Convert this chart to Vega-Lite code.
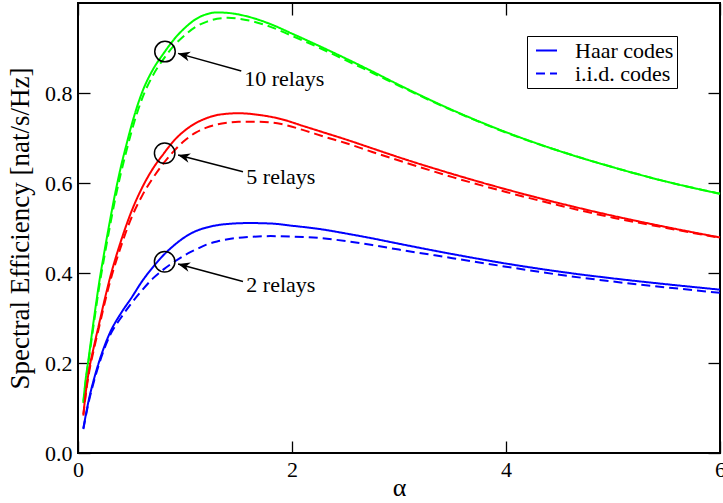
{
  "$schema": "https://vega.github.io/schema/vega-lite/v6.json",
  "width": 642,
  "height": 450,
  "autosize": {"type": "none"},
  "padding": {"left": 78, "top": 3, "right": 3, "bottom": 47},
  "background": "white",
  "datasets": {
    "curves": [
      {"a":0.05,"v":0.114,"n":"10 relays","c":"Haar codes"},{"a":0.07,"v":0.16,"n":"10 relays","c":"Haar codes"},{"a":0.1,"v":0.212,"n":"10 relays","c":"Haar codes"},{"a":0.15,"v":0.3,"n":"10 relays","c":"Haar codes"},{"a":0.2,"v":0.382,"n":"10 relays","c":"Haar codes"},{"a":0.25,"v":0.452,"n":"10 relays","c":"Haar codes"},{"a":0.3,"v":0.518,"n":"10 relays","c":"Haar codes"},{"a":0.35,"v":0.58,"n":"10 relays","c":"Haar codes"},{"a":0.4,"v":0.635,"n":"10 relays","c":"Haar codes"},{"a":0.45,"v":0.683,"n":"10 relays","c":"Haar codes"},{"a":0.5,"v":0.728,"n":"10 relays","c":"Haar codes"},{"a":0.55,"v":0.768,"n":"10 relays","c":"Haar codes"},{"a":0.6,"v":0.802,"n":"10 relays","c":"Haar codes"},{"a":0.7,"v":0.852,"n":"10 relays","c":"Haar codes"},{"a":0.8,"v":0.888,"n":"10 relays","c":"Haar codes"},{"a":0.9,"v":0.92,"n":"10 relays","c":"Haar codes"},{"a":1.0,"v":0.945,"n":"10 relays","c":"Haar codes"},{"a":1.1,"v":0.964,"n":"10 relays","c":"Haar codes"},{"a":1.2,"v":0.975,"n":"10 relays","c":"Haar codes"},{"a":1.3,"v":0.979,"n":"10 relays","c":"Haar codes"},{"a":1.4,"v":0.978,"n":"10 relays","c":"Haar codes"},{"a":1.6,"v":0.969,"n":"10 relays","c":"Haar codes"},{"a":1.8,"v":0.953,"n":"10 relays","c":"Haar codes"},{"a":2.0,"v":0.932,"n":"10 relays","c":"Haar codes"},{"a":2.25,"v":0.905,"n":"10 relays","c":"Haar codes"},{"a":2.5,"v":0.877,"n":"10 relays","c":"Haar codes"},{"a":2.75,"v":0.848,"n":"10 relays","c":"Haar codes"},{"a":3.0,"v":0.818,"n":"10 relays","c":"Haar codes"},{"a":3.5,"v":0.762,"n":"10 relays","c":"Haar codes"},{"a":4.0,"v":0.713,"n":"10 relays","c":"Haar codes"},{"a":4.5,"v":0.671,"n":"10 relays","c":"Haar codes"},{"a":5.0,"v":0.635,"n":"10 relays","c":"Haar codes"},{"a":5.5,"v":0.603,"n":"10 relays","c":"Haar codes"},{"a":6.0,"v":0.576,"n":"10 relays","c":"Haar codes"},

      {"a":0.05,"v":0.111,"n":"10 relays","c":"i.i.d. codes"},{"a":0.07,"v":0.155,"n":"10 relays","c":"i.i.d. codes"},{"a":0.1,"v":0.206,"n":"10 relays","c":"i.i.d. codes"},{"a":0.15,"v":0.291,"n":"10 relays","c":"i.i.d. codes"},{"a":0.2,"v":0.372,"n":"10 relays","c":"i.i.d. codes"},{"a":0.25,"v":0.441,"n":"10 relays","c":"i.i.d. codes"},{"a":0.3,"v":0.506,"n":"10 relays","c":"i.i.d. codes"},{"a":0.35,"v":0.567,"n":"10 relays","c":"i.i.d. codes"},{"a":0.4,"v":0.621,"n":"10 relays","c":"i.i.d. codes"},{"a":0.45,"v":0.669,"n":"10 relays","c":"i.i.d. codes"},{"a":0.5,"v":0.714,"n":"10 relays","c":"i.i.d. codes"},{"a":0.55,"v":0.754,"n":"10 relays","c":"i.i.d. codes"},{"a":0.6,"v":0.788,"n":"10 relays","c":"i.i.d. codes"},{"a":0.7,"v":0.839,"n":"10 relays","c":"i.i.d. codes"},{"a":0.8,"v":0.876,"n":"10 relays","c":"i.i.d. codes"},{"a":0.9,"v":0.906,"n":"10 relays","c":"i.i.d. codes"},{"a":1.0,"v":0.929,"n":"10 relays","c":"i.i.d. codes"},{"a":1.1,"v":0.947,"n":"10 relays","c":"i.i.d. codes"},{"a":1.2,"v":0.958,"n":"10 relays","c":"i.i.d. codes"},{"a":1.3,"v":0.965,"n":"10 relays","c":"i.i.d. codes"},{"a":1.4,"v":0.967,"n":"10 relays","c":"i.i.d. codes"},{"a":1.6,"v":0.961,"n":"10 relays","c":"i.i.d. codes"},{"a":1.8,"v":0.947,"n":"10 relays","c":"i.i.d. codes"},{"a":2.0,"v":0.927,"n":"10 relays","c":"i.i.d. codes"},{"a":2.25,"v":0.901,"n":"10 relays","c":"i.i.d. codes"},{"a":2.5,"v":0.873,"n":"10 relays","c":"i.i.d. codes"},{"a":2.75,"v":0.845,"n":"10 relays","c":"i.i.d. codes"},{"a":3.0,"v":0.816,"n":"10 relays","c":"i.i.d. codes"},{"a":3.5,"v":0.761,"n":"10 relays","c":"i.i.d. codes"},{"a":4.0,"v":0.712,"n":"10 relays","c":"i.i.d. codes"},{"a":4.5,"v":0.671,"n":"10 relays","c":"i.i.d. codes"},{"a":5.0,"v":0.635,"n":"10 relays","c":"i.i.d. codes"},{"a":5.5,"v":0.603,"n":"10 relays","c":"i.i.d. codes"},{"a":6.0,"v":0.576,"n":"10 relays","c":"i.i.d. codes"},

      {"a":0.05,"v":0.086,"n":"5 relays","c":"Haar codes"},{"a":0.08,"v":0.148,"n":"5 relays","c":"Haar codes"},{"a":0.1,"v":0.18,"n":"5 relays","c":"Haar codes"},{"a":0.15,"v":0.238,"n":"5 relays","c":"Haar codes"},{"a":0.2,"v":0.29,"n":"5 relays","c":"Haar codes"},{"a":0.25,"v":0.342,"n":"5 relays","c":"Haar codes"},{"a":0.3,"v":0.39,"n":"5 relays","c":"Haar codes"},{"a":0.4,"v":0.47,"n":"5 relays","c":"Haar codes"},{"a":0.5,"v":0.537,"n":"5 relays","c":"Haar codes"},{"a":0.6,"v":0.59,"n":"5 relays","c":"Haar codes"},{"a":0.7,"v":0.632,"n":"5 relays","c":"Haar codes"},{"a":0.8,"v":0.665,"n":"5 relays","c":"Haar codes"},{"a":0.9,"v":0.695,"n":"5 relays","c":"Haar codes"},{"a":1.0,"v":0.717,"n":"5 relays","c":"Haar codes"},{"a":1.1,"v":0.733,"n":"5 relays","c":"Haar codes"},{"a":1.2,"v":0.744,"n":"5 relays","c":"Haar codes"},{"a":1.3,"v":0.751,"n":"5 relays","c":"Haar codes"},{"a":1.4,"v":0.754,"n":"5 relays","c":"Haar codes"},{"a":1.5,"v":0.755,"n":"5 relays","c":"Haar codes"},{"a":1.7,"v":0.751,"n":"5 relays","c":"Haar codes"},{"a":1.9,"v":0.742,"n":"5 relays","c":"Haar codes"},{"a":2.1,"v":0.727,"n":"5 relays","c":"Haar codes"},{"a":2.3,"v":0.712,"n":"5 relays","c":"Haar codes"},{"a":2.5,"v":0.697,"n":"5 relays","c":"Haar codes"},{"a":2.75,"v":0.677,"n":"5 relays","c":"Haar codes"},{"a":3.0,"v":0.657,"n":"5 relays","c":"Haar codes"},{"a":3.5,"v":0.62,"n":"5 relays","c":"Haar codes"},{"a":4.0,"v":0.586,"n":"5 relays","c":"Haar codes"},{"a":4.5,"v":0.555,"n":"5 relays","c":"Haar codes"},{"a":5.0,"v":0.527,"n":"5 relays","c":"Haar codes"},{"a":5.5,"v":0.502,"n":"5 relays","c":"Haar codes"},{"a":6.0,"v":0.479,"n":"5 relays","c":"Haar codes"},

      {"a":0.05,"v":0.083,"n":"5 relays","c":"i.i.d. codes"},{"a":0.08,"v":0.143,"n":"5 relays","c":"i.i.d. codes"},{"a":0.1,"v":0.174,"n":"5 relays","c":"i.i.d. codes"},{"a":0.15,"v":0.232,"n":"5 relays","c":"i.i.d. codes"},{"a":0.2,"v":0.283,"n":"5 relays","c":"i.i.d. codes"},{"a":0.25,"v":0.334,"n":"5 relays","c":"i.i.d. codes"},{"a":0.3,"v":0.381,"n":"5 relays","c":"i.i.d. codes"},{"a":0.4,"v":0.458,"n":"5 relays","c":"i.i.d. codes"},{"a":0.5,"v":0.523,"n":"5 relays","c":"i.i.d. codes"},{"a":0.6,"v":0.572,"n":"5 relays","c":"i.i.d. codes"},{"a":0.7,"v":0.611,"n":"5 relays","c":"i.i.d. codes"},{"a":0.8,"v":0.644,"n":"5 relays","c":"i.i.d. codes"},{"a":0.9,"v":0.672,"n":"5 relays","c":"i.i.d. codes"},{"a":1.0,"v":0.695,"n":"5 relays","c":"i.i.d. codes"},{"a":1.1,"v":0.712,"n":"5 relays","c":"i.i.d. codes"},{"a":1.2,"v":0.723,"n":"5 relays","c":"i.i.d. codes"},{"a":1.3,"v":0.73,"n":"5 relays","c":"i.i.d. codes"},{"a":1.4,"v":0.734,"n":"5 relays","c":"i.i.d. codes"},{"a":1.5,"v":0.736,"n":"5 relays","c":"i.i.d. codes"},{"a":1.7,"v":0.736,"n":"5 relays","c":"i.i.d. codes"},{"a":1.9,"v":0.731,"n":"5 relays","c":"i.i.d. codes"},{"a":2.1,"v":0.718,"n":"5 relays","c":"i.i.d. codes"},{"a":2.3,"v":0.703,"n":"5 relays","c":"i.i.d. codes"},{"a":2.5,"v":0.689,"n":"5 relays","c":"i.i.d. codes"},{"a":2.75,"v":0.669,"n":"5 relays","c":"i.i.d. codes"},{"a":3.0,"v":0.65,"n":"5 relays","c":"i.i.d. codes"},{"a":3.5,"v":0.613,"n":"5 relays","c":"i.i.d. codes"},{"a":4.0,"v":0.58,"n":"5 relays","c":"i.i.d. codes"},{"a":4.5,"v":0.55,"n":"5 relays","c":"i.i.d. codes"},{"a":5.0,"v":0.523,"n":"5 relays","c":"i.i.d. codes"},{"a":5.5,"v":0.5,"n":"5 relays","c":"i.i.d. codes"},{"a":6.0,"v":0.478,"n":"5 relays","c":"i.i.d. codes"},

      {"a":0.05,"v":0.055,"n":"2 relays","c":"Haar codes"},{"a":0.1,"v":0.117,"n":"2 relays","c":"Haar codes"},{"a":0.15,"v":0.165,"n":"2 relays","c":"Haar codes"},{"a":0.2,"v":0.205,"n":"2 relays","c":"Haar codes"},{"a":0.3,"v":0.268,"n":"2 relays","c":"Haar codes"},{"a":0.4,"v":0.31,"n":"2 relays","c":"Haar codes"},{"a":0.5,"v":0.345,"n":"2 relays","c":"Haar codes"},{"a":0.6,"v":0.382,"n":"2 relays","c":"Haar codes"},{"a":0.7,"v":0.413,"n":"2 relays","c":"Haar codes"},{"a":0.8,"v":0.44,"n":"2 relays","c":"Haar codes"},{"a":0.9,"v":0.462,"n":"2 relays","c":"Haar codes"},{"a":1.0,"v":0.48,"n":"2 relays","c":"Haar codes"},{"a":1.1,"v":0.493,"n":"2 relays","c":"Haar codes"},{"a":1.2,"v":0.501,"n":"2 relays","c":"Haar codes"},{"a":1.4,"v":0.509,"n":"2 relays","c":"Haar codes"},{"a":1.6,"v":0.511,"n":"2 relays","c":"Haar codes"},{"a":1.8,"v":0.51,"n":"2 relays","c":"Haar codes"},{"a":2.0,"v":0.505,"n":"2 relays","c":"Haar codes"},{"a":2.25,"v":0.498,"n":"2 relays","c":"Haar codes"},{"a":2.5,"v":0.488,"n":"2 relays","c":"Haar codes"},{"a":2.75,"v":0.477,"n":"2 relays","c":"Haar codes"},{"a":3.0,"v":0.465,"n":"2 relays","c":"Haar codes"},{"a":3.5,"v":0.442,"n":"2 relays","c":"Haar codes"},{"a":4.0,"v":0.421,"n":"2 relays","c":"Haar codes"},{"a":4.5,"v":0.403,"n":"2 relays","c":"Haar codes"},{"a":5.0,"v":0.388,"n":"2 relays","c":"Haar codes"},{"a":5.5,"v":0.375,"n":"2 relays","c":"Haar codes"},{"a":6.0,"v":0.363,"n":"2 relays","c":"Haar codes"},

      {"a":0.05,"v":0.053,"n":"2 relays","c":"i.i.d. codes"},{"a":0.1,"v":0.113,"n":"2 relays","c":"i.i.d. codes"},{"a":0.15,"v":0.16,"n":"2 relays","c":"i.i.d. codes"},{"a":0.2,"v":0.2,"n":"2 relays","c":"i.i.d. codes"},{"a":0.3,"v":0.262,"n":"2 relays","c":"i.i.d. codes"},{"a":0.4,"v":0.3,"n":"2 relays","c":"i.i.d. codes"},{"a":0.5,"v":0.333,"n":"2 relays","c":"i.i.d. codes"},{"a":0.6,"v":0.362,"n":"2 relays","c":"i.i.d. codes"},{"a":0.7,"v":0.388,"n":"2 relays","c":"i.i.d. codes"},{"a":0.8,"v":0.408,"n":"2 relays","c":"i.i.d. codes"},{"a":0.9,"v":0.425,"n":"2 relays","c":"i.i.d. codes"},{"a":1.0,"v":0.44,"n":"2 relays","c":"i.i.d. codes"},{"a":1.1,"v":0.452,"n":"2 relays","c":"i.i.d. codes"},{"a":1.2,"v":0.463,"n":"2 relays","c":"i.i.d. codes"},{"a":1.3,"v":0.47,"n":"2 relays","c":"i.i.d. codes"},{"a":1.4,"v":0.475,"n":"2 relays","c":"i.i.d. codes"},{"a":1.6,"v":0.48,"n":"2 relays","c":"i.i.d. codes"},{"a":1.8,"v":0.482,"n":"2 relays","c":"i.i.d. codes"},{"a":2.0,"v":0.481,"n":"2 relays","c":"i.i.d. codes"},{"a":2.25,"v":0.478,"n":"2 relays","c":"i.i.d. codes"},{"a":2.5,"v":0.471,"n":"2 relays","c":"i.i.d. codes"},{"a":2.75,"v":0.462,"n":"2 relays","c":"i.i.d. codes"},{"a":3.0,"v":0.452,"n":"2 relays","c":"i.i.d. codes"},{"a":3.5,"v":0.433,"n":"2 relays","c":"i.i.d. codes"},{"a":4.0,"v":0.414,"n":"2 relays","c":"i.i.d. codes"},{"a":4.5,"v":0.396,"n":"2 relays","c":"i.i.d. codes"},{"a":5.0,"v":0.381,"n":"2 relays","c":"i.i.d. codes"},{"a":5.5,"v":0.368,"n":"2 relays","c":"i.i.d. codes"},{"a":6.0,"v":0.356,"n":"2 relays","c":"i.i.d. codes"}
    ],
    "marks": [
      {"n":"10 relays","cx":0.813,"cy":0.892,"tx":1.526,"ty":0.849,"hx":0.935,"hy":0.888,"lx":1.554,"ly":0.815},
      {"n":"5 relays","cx":0.81,"cy":0.666,"tx":1.542,"ty":0.625,"hx":0.935,"hy":0.662,"lx":1.573,"ly":0.598},
      {"n":"2 relays","cx":0.81,"cy":0.425,"tx":1.542,"ty":0.381,"hx":0.935,"hy":0.42,"lx":1.573,"ly":0.357}
    ]
  },
  "layer": [
    {
      "data": {"name": "curves"},
      "mark": {"type": "line", "strokeWidth": 2, "interpolate": "monotone", "color": "#0000ff"},
      "encoding": {
        "x": {"field": "a", "type": "quantitative", "scale": {"domain": [0, 6], "nice": false},
              "axis": {"orient": "bottom", "values": [0, 2, 4, 6], "format": "d", "title": "α", "labelPadding": 18, "titlePadding": -6}},
        "y": {"field": "v", "type": "quantitative", "scale": {"domain": [0, 1], "nice": false},
              "axis": {"orient": "left", "values": [0, 0.2, 0.4, 0.6, 0.8], "format": ".1f", "title": "Spectral Efficiency [nat/s/Hz]", "labelPadding": 18, "titlePadding": 10, "titleFontSize": 27}},
        "color": {"field": "n", "type": "nominal", "legend": null,
                  "scale": {"domain": ["2 relays", "5 relays", "10 relays"], "range": ["#0000ff", "#ff0000", "#00ff00"]}},
        "strokeDash": {"field": "c", "type": "nominal",
                       "scale": {"domain": ["Haar codes", "i.i.d. codes"], "range": [[1, 0], [9, 5]]},
                       "legend": {"orient": "none", "legendX": 449, "legendY": 33, "title": null,
                                  "symbolType": "stroke", "symbolStrokeColor": "#0000ff", "symbolStrokeWidth": 2, "symbolSize": 441,
                                  "symbolOffset": 5, "strokeColor": "black", "fillColor": "white", "padding": 3, "rowPadding": 0,
                                  "labelFont": "Liberation Serif", "labelFontSize": 22, "labelColor": "black", "labelOffset": 17}}
      }
    },
    {
      "data": {"name": "marks"},
      "mark": {"type": "point", "shape": "circle", "filled": false, "stroke": "black", "strokeWidth": 1.5, "size": 420, "opacity": 1},
      "encoding": {
        "x": {"field": "cx", "type": "quantitative", "axis": {"orient": "top", "values": [0, 2, 4, 6], "labels": false, "title": null}},
        "y": {"field": "cy", "type": "quantitative", "axis": {"orient": "right", "values": [0, 0.2, 0.4, 0.6, 0.8], "labels": false, "title": null}}
      }
    },
    {
      "data": {"name": "marks"},
      "mark": {"type": "rule", "stroke": "black", "strokeWidth": 1.5},
      "encoding": {
        "x": {"field": "tx", "type": "quantitative", "axis": null},
        "y": {"field": "ty", "type": "quantitative", "axis": null},
        "x2": {"field": "hx"},
        "y2": {"field": "hy"}
      }
    },
    {
      "data": {"name": "marks"},
      "mark": {"type": "point", "shape": "M0,0L-2,-0.8L-1.4,0L-2,0.8Z", "filled": true, "color": "black", "size": 144, "angle": 195, "opacity": 1},
      "encoding": {
        "x": {"field": "hx", "type": "quantitative", "axis": null},
        "y": {"field": "hy", "type": "quantitative", "axis": null}
      }
    },
    {
      "data": {"name": "marks"},
      "mark": {"type": "text", "align": "left", "baseline": "alphabetic", "font": "Liberation Serif", "fontSize": 22, "color": "black"},
      "encoding": {
        "x": {"field": "lx", "type": "quantitative", "axis": null},
        "y": {"field": "ly", "type": "quantitative", "axis": null},
        "text": {"field": "n"}
      }
    }
  ],
  "resolve": {"axis": {"x": "independent", "y": "independent"}},
  "config": {
    "view": {"stroke": "black", "strokeWidth": 2},
    "font": "Liberation Serif",
    "axis": {"grid": false, "domain": false, "ticks": true, "tickSize": -12, "tickColor": "black", "tickWidth": 1.3, "labelFlush": false,
             "labelFont": "Liberation Serif", "labelFontSize": 22, "labelColor": "black",
             "titleFont": "Liberation Serif", "titleFontSize": 26, "titleFontWeight": "normal", "titleColor": "black"}
  }
}
